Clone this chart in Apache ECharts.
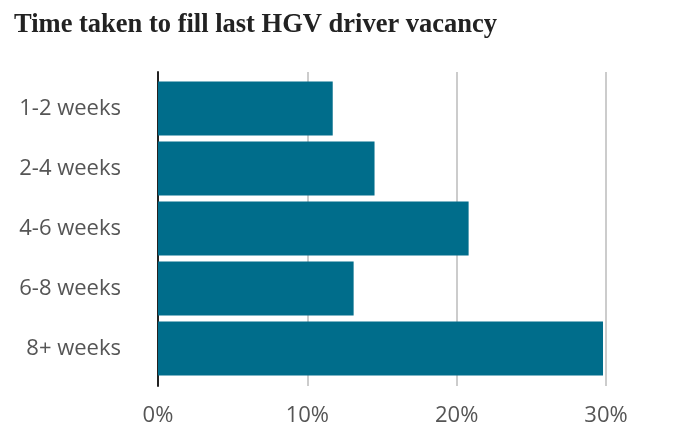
<!DOCTYPE html>
<html><head><meta charset="utf-8">
<script src="https://cdn.jsdelivr.net/npm/echarts@6/dist/echarts.min.js"></script>
<style>html,body{margin:0;padding:0;background:#fff}#c{width:700px;height:438px}</style>
</head><body><div id="c"></div>
<script>
const categories = ['1-2 weeks', '2-4 weeks', '4-6 weeks', '6-8 weeks', '8+ weeks'];
const values = [11.7, 14.5, 20.8, 13.1, 29.8];
const xTicks = [0, 10, 20, 30];

const chart = echarts.init(document.getElementById('c'));
chart.setOption({
  animation: false,
  title: {
    text: 'Time taken to fill last HGV driver vacancy',
    left: 9, top: 7,
    textStyle: { fontFamily: 'Liberation Serif', fontWeight: 'bold', fontSize: 26.5, color: '#222' }
  },
  grid: [
    { left: 158, right: 94, top: 72, bottom: 52 },
    { left: 158, right: 94, top: 78.5, height: 300 }
  ],
  xAxis: [
    { gridIndex: 0, type: 'value', min: xTicks[0], max: xTicks[xTicks.length - 1], interval: 10,
      axisLine: { show: false }, axisTick: { show: false },
      splitLine: { show: true, lineStyle: { color: '#cccccc', width: 2 } },
      axisLabel: { formatter: v => v + '%', color: '#555', fontSize: 22, fontFamily: 'Open Sans', margin: 19 } },
    { gridIndex: 1, type: 'value', min: 0, max: 30, show: false }
  ],
  yAxis: [
    { gridIndex: 0, type: 'value', axisLine: { show: true, lineStyle: { color: '#222', width: 2 } },
      axisTick: { show: false }, axisLabel: { show: false }, splitLine: { show: false } },
    { gridIndex: 1, type: 'category', data: categories, inverse: true,
      axisLine: { show: false }, axisTick: { show: false },
      axisLabel: { color: '#555', fontSize: 22, fontFamily: 'Open Sans', margin: 37 } }
  ],
  series: [{
    type: 'bar', xAxisIndex: 1, yAxisIndex: 1, data: values,
    barCategoryGap: '10%', itemStyle: { color: '#006d8b' }
  }]
});
</script></body></html>
